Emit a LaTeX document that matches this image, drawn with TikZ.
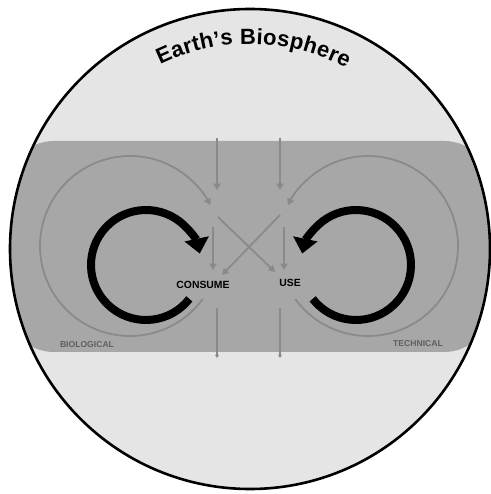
\documentclass[tikz,border=0pt]{standalone}
\usepackage{fontspec}
\setmainfont{Liberation Sans}
\usetikzlibrary{arrows.meta,decorations.text}
\definecolor{sphere}{RGB}{230,229,230}
\definecolor{band}{RGB}{168,167,168}
\definecolor{flow}{RGB}{138,138,138}
\definecolor{tagtext}{RGB}{95,95,95}

\begin{document}
\begin{tikzpicture}[
        x=0.5pt, y=0.5pt,
        >=Stealth,
        flowline/.style={draw=flow, line width=0.9pt, -{Triangle[width=3.6pt,length=3.2pt]}},
        outline/.style={draw=flow, line width=0.9pt, -{Triangle[width=2pt,length=1.6pt]}},
        loopline/.style={draw=black, line width=4pt, -{Triangle[width=12pt,length=7.5pt]}},
        stagetext/.style={font=\fontsize{5.2}{6}\selectfont\bfseries, inner sep=0pt},
        sidetext/.style={font=\fontsize{4.3}{5}\selectfont\bfseries, text=tagtext, inner sep=0pt}
    ]
        \useasboundingbox (0,0) rectangle (491,494);
        % biosphere and band
        \coordinate (earth) at (250,245);
        \fill[sphere] (earth) circle (240);
        \begin{scope}
            \clip (earth) circle (240);
            \fill[band, rounded corners=24pt] (6,142) rectangle (492,353);
        \end{scope}
        \draw[line width=1.3pt] (earth) circle (240);
        \path[decorate, decoration={text along path, text align={fit to path},
            text={|\fontsize{11}{12}\selectfont\bfseries|Earth's Biosphere}}]
            (earth) ++(116:205) arc[start angle=116, end angle=62, radius=205];
        % outer cycles
        \coordinate (bioCycle) at (130,248);
        \coordinate (techCycle) at (368,248);
        \draw[flowline] (bioCycle) ++(-36:90) arc[start angle=-36, end angle=-333, radius=90];
        \draw[flowline] (techCycle) ++(216:90) arc[start angle=216, end angle=513, radius=90];
        % inner loops
        \coordinate (bioLoop) at (146,229);
        \coordinate (techLoop) at (356,229);
        \draw[loopline] (bioLoop) ++(-38:55) arc[start angle=-38, end angle=-348, radius=55];
        \draw[loopline] (techLoop) ++(218:55) arc[start angle=218, end angle=528, radius=55];
        % labels
        \node[stagetext] (consume) at (203,209) {CONSUME};
        \node[stagetext] (use) at (290,211) {USE};
        \node[sidetext] (biological) at (87,149) {BIOLOGICAL};
        \node[sidetext] (technical) at (418,150) {TECHNICAL};
        % flows
        \coordinate (bioIn) at (217,356);
        \coordinate (bioInEnd) at (217,304);
        \coordinate (techIn) at (280,356);
        \coordinate (techInEnd) at (280,304);
        \coordinate (bioDown) at (213,267);
        \coordinate (bioDownEnd) at (213,224);
        \coordinate (techDown) at (284,267);
        \coordinate (techDownEnd) at (284,224);
        \coordinate (crossA) at (218,277);
        \coordinate (crossAEnd) at (275,222);
        \coordinate (crossB) at (280,279);
        \coordinate (crossBEnd) at (222,219);
        \coordinate (bioOut) at (217,186);
        \coordinate (bioOutEnd) at (217,136);
        \coordinate (techOut) at (280,186);
        \coordinate (techOutEnd) at (280,136);
        \draw[flowline] (bioIn) -- (bioInEnd);
        \draw[flowline] (techIn) -- (techInEnd);
        \draw[flowline] (bioDown) -- (bioDownEnd);
        \draw[flowline] (techDown) -- (techDownEnd);
        \draw[flowline] (crossA) -- (crossAEnd);
        \draw[flowline] (crossB) -- (crossBEnd);
        \draw[outline] (bioOut) -- (bioOutEnd);
        \draw[outline] (techOut) -- (techOutEnd);
    \end{tikzpicture}
\end{document}
